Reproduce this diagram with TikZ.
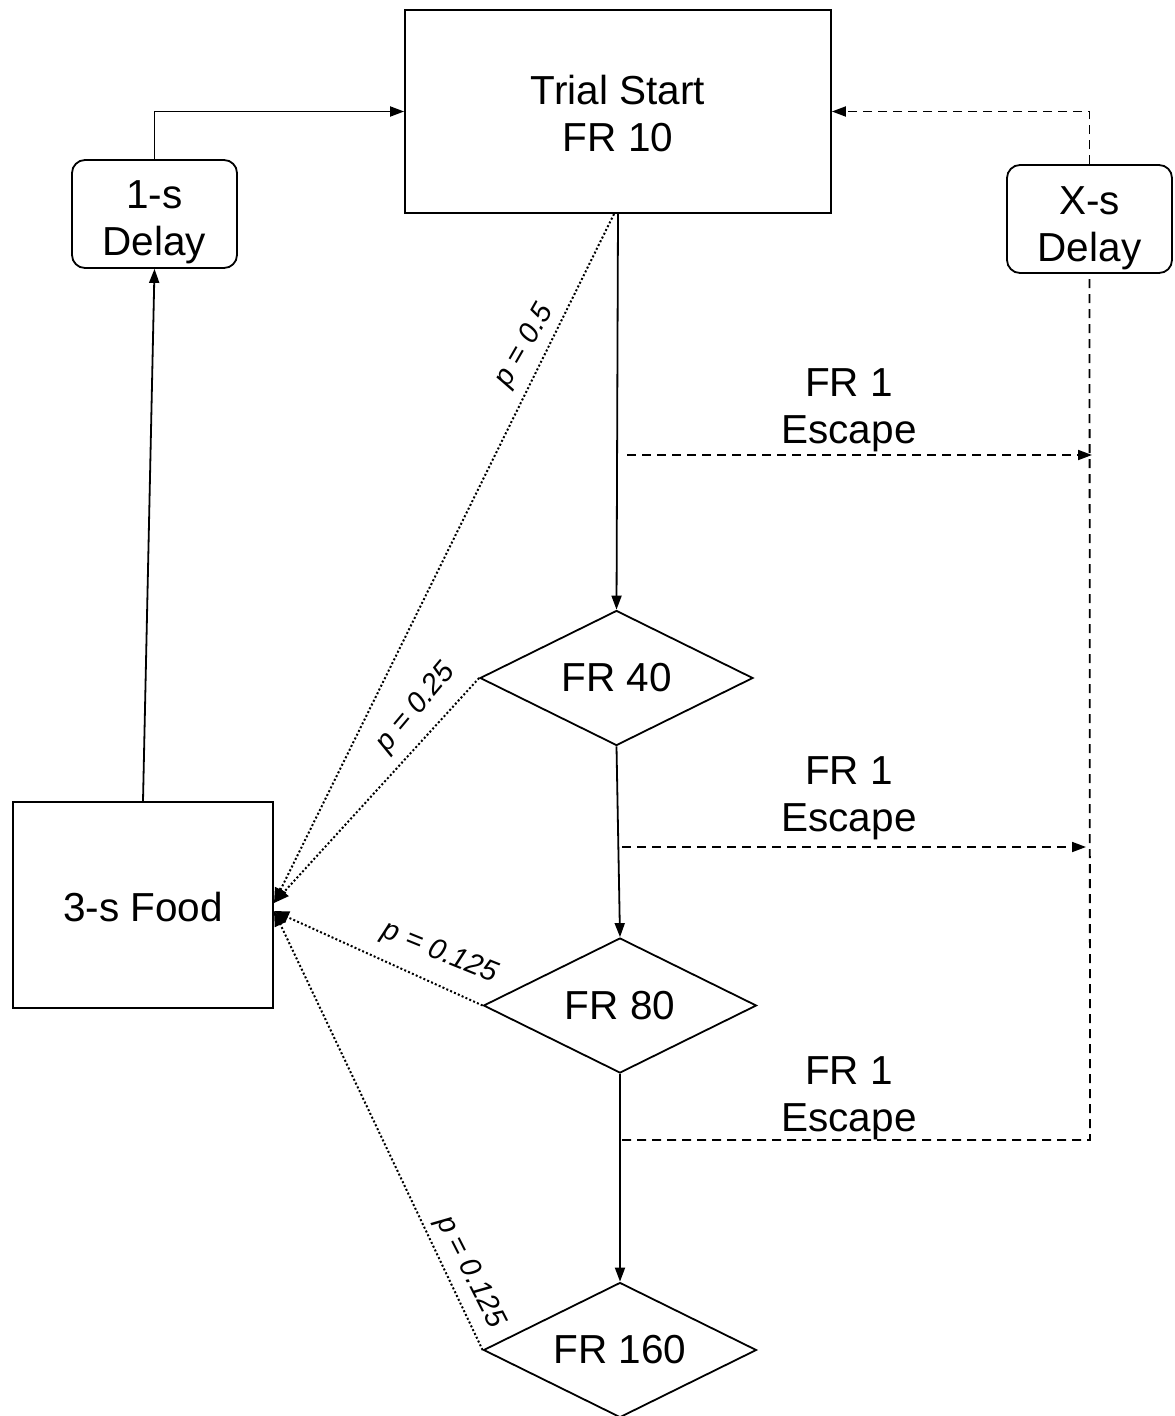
\documentclass[tikz,border=0pt]{standalone}
\usepackage{fontspec}
\setmainfont{Liberation Sans}
\usetikzlibrary{shapes.geometric,arrows.meta}
\begin{document}
\begin{tikzpicture}[x=1pt,y=-1pt,
  big/.style={font=\fontsize{40.5}{47}\selectfont,align=center},
  box/.style={big,draw,line width=1.8pt,inner sep=0pt},
  rbox/.style={box,rounded corners=13pt},
  dia/.style={big,draw,line width=1.8pt,diamond,shape aspect=2,inner sep=0pt,minimum width=273pt,minimum height=135pt},
  lab/.style={font=\fontsize{29}{32}\selectfont\itshape,inner sep=0pt},
  solid arrow/.style={line width=1.8pt,-{Triangle[length=14pt,width=10pt]}},
  dash arrow/.style={line width=1.8pt,dash pattern=on 9pt off 6pt,-{Triangle[length=14pt,width=10pt]}},
  dashline/.style={line width=1.8pt,dash pattern=on 9pt off 6pt},
  dot arrow/.style={line width=2pt,dash pattern=on 2pt off 2.2pt,-{Triangle[length=15pt,width=12pt]}}
]
\useasboundingbox (0,0) rectangle (1175,1416);
\fill[white] (0,0) rectangle (1175,1416);

% nodes
\node[box,minimum width=426pt,minimum height=203pt] (ts) at (618,111.5) {};
\node[big] (tst) at ([yshift=-2pt]ts.center) {Trial Start\\FR 10};
\node[rbox,minimum width=165pt,minimum height=108pt] (d1) at (154.5,214) {};
\node[big] (d1t) at ([yshift=-8pt]d1.center) {1-s\\Delay};
\node[rbox,minimum width=165pt,minimum height=108pt] (dx) at (1089.5,219) {};
\node[big] (dxt) at ([yshift=-9pt]dx.center) {X-s\\Delay};
\node[box,minimum width=260pt,minimum height=206pt] (food) at (143,905) {};
\node[big] (foodt) at ([yshift=-2pt]food.center) {3-s Food};
\node[dia] (f40) at (616.5,678) {FR 40};
\node[dia] (f80) at (620,1005.5) {FR 80};
\node[dia] (f160) at (620,1350) {FR 160};

\node[big] (e1) at (849,410) {FR 1\\Escape};
\node[big] (e2) at (849,798) {FR 1\\Escape};
\node[big] (e3) at (849,1098) {FR 1\\Escape};

% coordinates
\coordinate (fa) at (274,903);
\coordinate (fb) at (274,911);
\coordinate (s1) at (627,455);
\coordinate (t1) at (1092,455);
\coordinate (s2) at (622,847);
\coordinate (t2) at (1086,847);
\coordinate (s3) at (622,1140);
\coordinate (c3) at (1090,1140);
\coordinate (tsb) at (614,214);

% solid main chain
\draw[solid arrow] (ts.south) -- (f40.north);
\draw[solid arrow] (f40.south) -- (f80.north);
\draw[solid arrow] (f80.south) -- (f160.north);
\draw[solid arrow] (food.north) -- (d1.south);
\draw[solid arrow] (d1.north) |- (ts.west);

% dashed escape paths
\draw[dash arrow] (dx.north) |- (ts.east);
\draw[dashline] (s3) -- (c3) -- (dx.south);
\draw[dash arrow] (s1) -- (t1);
\draw[dash arrow] (s2) -- (t2);

% dotted probability paths
\draw[dot arrow] (tsb) -- (fa);
\draw[dot arrow] (f40.west) -- (fa);
\draw[dot arrow] (f80.west) -- (fb);
\draw[dot arrow] (f160.west) -- (fb);

\node[lab,rotate=60] (l1) at (525,346) {p = 0.5};
\node[lab,rotate=50] (l2) at (416,708) {p = 0.25};
\node[lab,rotate=-22] (l3) at (440,953) {p = 0.125};
\node[lab,rotate=-63] (l4) at (470,1272) {p = 0.125};
\end{tikzpicture}
\end{document}
